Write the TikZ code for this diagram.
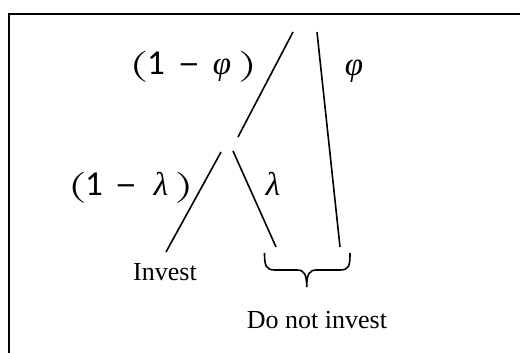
\documentclass[tikz,border=0pt]{standalone}
\usepackage{fontspec}
\setmainfont{Liberation Serif}
\newfontfamily\labfont{Carlito}
\newfontfamily\grkfont{Liberation Serif}
\newfontfamily\parfont{lmroman10-regular.otf}
\newcommand{\grk}[1]{{\grkfont\itshape\fontsize{33}{36}\selectfont #1}}
\newcommand{\gly}[1]{\makebox[0pt]{#1}}
\newcommand{\lpar}{\gly{\parfont\fontsize{31}{34}\selectfont\scalebox{1.6}[1]{(}}}
\newcommand{\rpar}{\gly{\parfont\fontsize{31}{34}\selectfont\scalebox{1.6}[1]{)}}}
\newcommand{\dsh}{\gly{\scalebox{1.3}[1]{–}}}
\begin{document}
\begin{tikzpicture}[x=1pt,y=-1pt,
  branch/.style={line width=1.6pt},
  framel/.style={line width=1.8pt},
  problab/.style={font=\labfont\fontsize{35}{38}\selectfont, inner sep=0pt, anchor=base},
  outlab/.style={font=\fontsize{26}{30}\selectfont, inner sep=0pt}]
\useasboundingbox (0,0) rectangle (520,353);
% frame
\coordinate (fbl) at (9,360);
\coordinate (ftl) at (9,14);
\coordinate (ftr) at (530,14);
\draw[framel] (fbl) -- (ftl) -- (ftr);
% tree end points
\coordinate (t1) at (293,32);
\coordinate (m1) at (238,137);
\coordinate (t2) at (317,32);
\coordinate (b2) at (340,247);
\coordinate (m2) at (221,152);
\coordinate (inv) at (166,252);
\coordinate (m3) at (233,151);
\coordinate (b3) at (276,247);
\draw[branch] (t1) -- (m1);
\draw[branch] (t2) -- (b2);
\draw[branch] (m2) -- (inv);
\draw[branch] (m3) -- (b3);
% labels
\node[problab] (lphi1) at (193.25,75) {\lpar\hspace{17pt}\gly{1}\hspace{33pt}\dsh\hspace{33pt}\gly{\grk{φ}}\hspace{25.5pt}\rpar};
\node[problab] (lphi) at (354,76) {\grk{φ}};
\node[problab] (llam1) at (130.75,195) {\lpar\hspace{16.5pt}\gly{1}\hspace{32pt}\dsh\hspace{35pt}\gly{\grk{λ}}\hspace{23pt}\rpar};
\node[problab] (llam) at (273,195) {\grk{λ}};
\node[outlab] (ninv) at (165,272) {Invest};
\node[outlab] (ndni) at (317,320) {Do not invest};
% brace
\coordinate (bl) at (264.5,253);
\coordinate (br) at (350,253);
\coordinate (bc) at (306.7,287);
\draw[branch] (bl) .. controls (264.5,266) and (266,270) .. (275,270)
  -- (297,270) .. controls (304,270) and (306.7,274) .. (bc)
  .. controls (306.7,274) and (309.4,270) .. (316.4,270)
  -- (340,270) .. controls (349,270) and (350,266) .. (br);
\end{tikzpicture}
\end{document}
